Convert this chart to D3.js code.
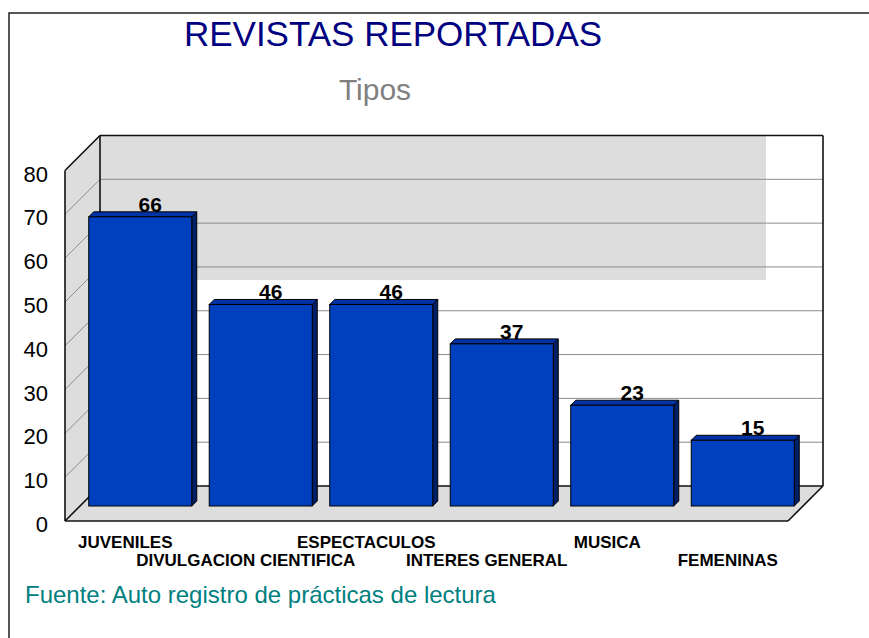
<!DOCTYPE html>
<html>
<head>
<meta charset="utf-8">
<script src="https://cdn.jsdelivr.net/npm/d3@7"></script>
<style>
  body { margin: 0; background: #fff; }
  text { font-family: Arial, "Liberation Sans", sans-serif; }
</style>
</head>
<body>
<div id="chart"></div>
<script>
// data
var categories = ["JUVENILES", "DIVULGACION CIENTIFICA", "ESPECTACULOS", "INTERES GENERAL", "MUSICA", "FEMENINAS"]
var values = [66, 46, 46, 37, 23, 15]
var yTicks = [0, 10, 20, 30, 40, 50, 60, 70, 80]
var shadedTop = 80, shadedBottom = 47   // grey part of the back wall

var dims = {
    width: 869, height: 638,
    backLeft: 100, backRight: 823,
    backTop: 135.5, backBottom: 486,
    depth: 35,        // offset of the front of the floor
    barPlane: 20,     // offset of the bar front faces
    barDepth: 5,
    shadeRight: 766
}

var svg = d3.select("#chart")
    .append("svg")
    .attr("width", dims.width)
    .attr("height", dims.height)

// scales
var x = d3.scaleBand()
    .domain(categories)
    .range([dims.backLeft, dims.backRight])
    .paddingInner(0.145)
    .paddingOuter(0.0725)

var y = d3.scaleLinear()
    .domain([0, 80])
    .range([dims.backBottom, dims.backTop])

var D = dims.depth

// outer frame
svg.append("rect")
    .attr("x", 9).attr("y", 13)
    .attr("width", 1000).attr("height", 1000)
    .attr("fill", "none").attr("stroke", "#222").attr("stroke-width", 1.5)

// back wall shaded part
svg.append("rect")
    .attr("x", dims.backLeft)
    .attr("y", y(shadedTop))
    .attr("width", dims.shadeRight - dims.backLeft)
    .attr("height", y(shadedBottom) - y(shadedTop))
    .attr("fill", "#dddddd")

// back wall gridlines
svg.append("g")
    .selectAll("line")
    .data(yTicks.filter(d => d > 0 && d < 80))
    .enter()
    .append("line")
    .attr("x1", dims.backLeft).attr("x2", dims.backRight)
    .attr("y1", d => y(d)).attr("y2", d => y(d))
    .attr("stroke", "#8c8c8c").attr("stroke-width", 1)

// left wall
svg.append("polygon")
    .attr("points", [[dims.backLeft - D, y(80) + D], [dims.backLeft, y(80)], [dims.backLeft, y(0)], [dims.backLeft - D, y(0) + D]].join(" "))
    .attr("fill", "#dddddd")

svg.append("g")
    .selectAll("line")
    .data(yTicks.filter(d => d > 0 && d < 80))
    .enter()
    .append("line")
    .attr("x1", dims.backLeft - D).attr("x2", dims.backLeft)
    .attr("y1", d => y(d) + D).attr("y2", d => y(d))
    .attr("stroke", "#8c8c8c").attr("stroke-width", 1)

// floor
svg.append("polygon")
    .attr("points", [[dims.backLeft - D, y(0) + D], [dims.backLeft, y(0)], [dims.backRight, y(0)], [dims.backRight - D, y(0) + D]].join(" "))
    .attr("fill", "#dddddd")

// black edges
var edges = [
    [[dims.backLeft - D, y(80) + D], [dims.backLeft - D, y(0) + D]],
    [[dims.backLeft - D, y(80) + D], [dims.backLeft, y(80)]],
    [[dims.backLeft, y(80)], [dims.backLeft, y(0)]],
    [[dims.backLeft, y(80)], [dims.backRight, y(80)]],
    [[dims.backRight, y(80)], [dims.backRight, y(0)]],
    [[dims.backLeft, y(0)], [dims.backRight, y(0)]],
    [[dims.backLeft - D, y(0) + D], [dims.backLeft, y(0)]],
    [[dims.backLeft - D, y(0) + D], [dims.backRight - D, y(0) + D]],
    [[dims.backRight - D, y(0) + D], [dims.backRight, y(0)]]
]
svg.append("g")
    .selectAll("line")
    .data(edges)
    .enter()
    .append("line")
    .attr("x1", d => d[0][0]).attr("y1", d => d[0][1])
    .attr("x2", d => d[1][0]).attr("y2", d => d[1][1])
    .attr("stroke", "#111").attr("stroke-width", 1.6)

// bars
var barData = categories.map((c, i) => ({ cat: c, value: values[i] }))
var P = dims.barPlane, B = dims.barDepth, bw = x.bandwidth()

var bars = svg.append("g")
    .selectAll("g")
    .data(barData)
    .enter()
    .append("g")

// side face
bars.append("polygon")
    .attr("points", d => {
        var x1 = x(d.cat) - P + bw, yt = y(d.value) + P, yb = y(0) + P
        return [[x1, yt], [x1 + B, yt - B], [x1 + B, yb - B], [x1, yb]].join(" ")
    })
    .attr("fill", "#001f66").attr("stroke", "#000").attr("stroke-width", 1)

// top face
bars.append("polygon")
    .attr("points", d => {
        var x0 = x(d.cat) - P, x1 = x0 + bw, yt = y(d.value) + P
        return [[x0, yt], [x0 + B, yt - B], [x1 + B, yt - B], [x1, yt]].join(" ")
    })
    .attr("fill", "#0033a8").attr("stroke", "#000").attr("stroke-width", 1)

// front face
bars.append("rect")
    .attr("x", d => x(d.cat) - P)
    .attr("y", d => y(d.value) + P)
    .attr("width", bw)
    .attr("height", d => y(0) - y(d.value))
    .attr("fill", "#0040bf").attr("stroke", "#000").attr("stroke-width", 1)

// value labels
bars.append("text")
    .attr("x", d => x(d.cat) + bw / 2 - 10)
    .attr("y", d => y(d.value) + P - B)
    .attr("text-anchor", "middle")
    .attr("font-size", "21px")
    .attr("font-weight", "bold")
    .attr("fill", "#000")
    .text(d => d.value)

// y tick labels
svg.append("g")
    .selectAll("text")
    .data(yTicks)
    .enter()
    .append("text")
    .attr("x", 48)
    .attr("y", d => y(d) + D + 11)
    .attr("text-anchor", "end")
    .attr("font-size", "22px")
    .attr("fill", "#000")
    .text(d => d)

// category labels, staggered in two rows
svg.append("g")
    .selectAll("text")
    .data(categories)
    .enter()
    .append("text")
    .attr("x", d => x(d) + bw / 2 - D)
    .attr("y", (d, i) => i % 2 === 0 ? 548 : 566)
    .attr("text-anchor", "middle")
    .attr("font-size", "17px")
    .attr("font-weight", "bold")
    .attr("fill", "#000")
    .text(d => d)

// titles
svg.append("text")
    .attr("x", 393).attr("y", 46)
    .attr("text-anchor", "middle")
    .attr("font-size", "35px")
    .attr("fill", "#000080")
    .text("REVISTAS REPORTADAS")

svg.append("text")
    .attr("x", 375).attr("y", 100)
    .attr("text-anchor", "middle")
    .attr("font-size", "30px")
    .attr("fill", "#808080")
    .text("Tipos")

svg.append("text")
    .attr("x", 25).attr("y", 603)
    .attr("font-size", "24px")
    .attr("fill", "#008080")
    .text("Fuente: Auto registro de prácticas de lectura")
</script>
</body>
</html>
